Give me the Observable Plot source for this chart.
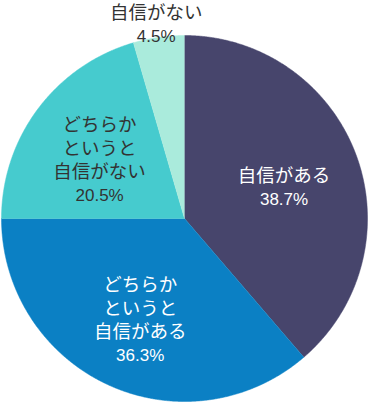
<!DOCTYPE html>
<html>
<head>
<meta charset="utf-8">
<script src="https://cdn.jsdelivr.net/npm/d3@7"></script>
<script src="https://cdn.jsdelivr.net/npm/@observablehq/plot@0.6"></script>
<style>
  html, body { margin: 0; padding: 0; background: #fff; }
  #chart svg { display: block; font-family: "Noto Sans CJK JP", "Noto Sans", sans-serif; }
</style>
</head>
<body>
<div id="chart"></div>
<script>
// ---- data ----
const categories = ["自信がある", "どちらかというと自信がある", "どちらかというと自信がない", "自信がない"];
const labelTexts = ["自信がある", "どちらか\nというと\n自信がある", "どちらか\nというと\n自信がない", "自信がない"];
const values = [38.7, 36.3, 20.5, 4.5];
const percentLabels = ["38.7%", "36.3%", "20.5%", "4.5%"];

// ---- styling ----
const sliceColors = ["#47456c", "#0b80c4", "#46cbce", "#aaebdc"];
const textColors = ["#ffffff", "#ffffff", "#333333", "#333333"];

const width = 368, height = 403;
const margin = {top: 35, right: 1, bottom: 2, left: 1};
const R = (width - margin.left - margin.right) / 2; // pixels per data unit
const nameSize = 18.5, pctSize = 17;
const nameLinePx = 23.5, pctGapPx = 25, shiftPx = 5;

const arcs = d3.pie().sort(null).value(d => d)(values);

// polygon vertices for each slice (geometry only, angles clockwise from 12 o'clock)
const poly = [];
arcs.forEach((a, i) => {
  poly.push({cat: categories[i], x: 0, y: 0});
  const n = Math.max(2, Math.ceil((a.endAngle - a.startAngle) / 0.005));
  for (let k = 0; k <= n; k++) {
    const t = a.startAngle + (a.endAngle - a.startAngle) * k / n;
    poly.push({cat: categories[i], x: Math.sin(t), y: Math.cos(t)});
  }
});

// label anchors from slice mid-angles
const labels = arcs.map((a, i) => {
  const mid = (a.startAngle + a.endAngle) / 2;
  const r = values[i] < 10 ? 1.1 : 0.58;
  const lines = labelTexts[i].split("\n").length;
  const cx = r * Math.sin(mid);
  const cy = r * Math.cos(mid) - shiftPx / R;
  const span = (lines - 1) * nameLinePx + pctGapPx;
  return {
    cat: categories[i],
    name: labelTexts[i],
    pct: percentLabels[i],
    color: textColors[i],
    x: cx,
    yName: cy + (pctGapPx / 2) / R,
    yPct: cy - (span / 2) / R
  };
});

const chart = Plot.plot({
  width, height,
  marginTop: margin.top, marginRight: margin.right, marginBottom: margin.bottom, marginLeft: margin.left,
  x: {domain: [-1, 1], axis: null},
  y: {domain: [-1, 1], axis: null},
  color: {domain: categories, range: sliceColors},
  style: {background: "#fff", overflow: "visible"},
  marks: [
    Plot.line(poly, {x: "x", y: "y", z: "cat", fill: "cat", stroke: "cat", strokeWidth: 0.5, curve: "linear"}),
    Plot.text(labels, {x: "x", y: "yName", text: "name", fill: "color", fontSize: nameSize, lineHeight: nameLinePx / nameSize, lineAnchor: "middle", textAnchor: "middle"}),
    Plot.text(labels, {x: "x", y: "yPct", text: "pct", fill: "color", fontSize: pctSize, fontFamily: "Liberation Sans, Arial, sans-serif", lineAnchor: "middle", textAnchor: "middle"})
  ]
});
document.getElementById("chart").appendChild(chart);
</script>
</body>
</html>
